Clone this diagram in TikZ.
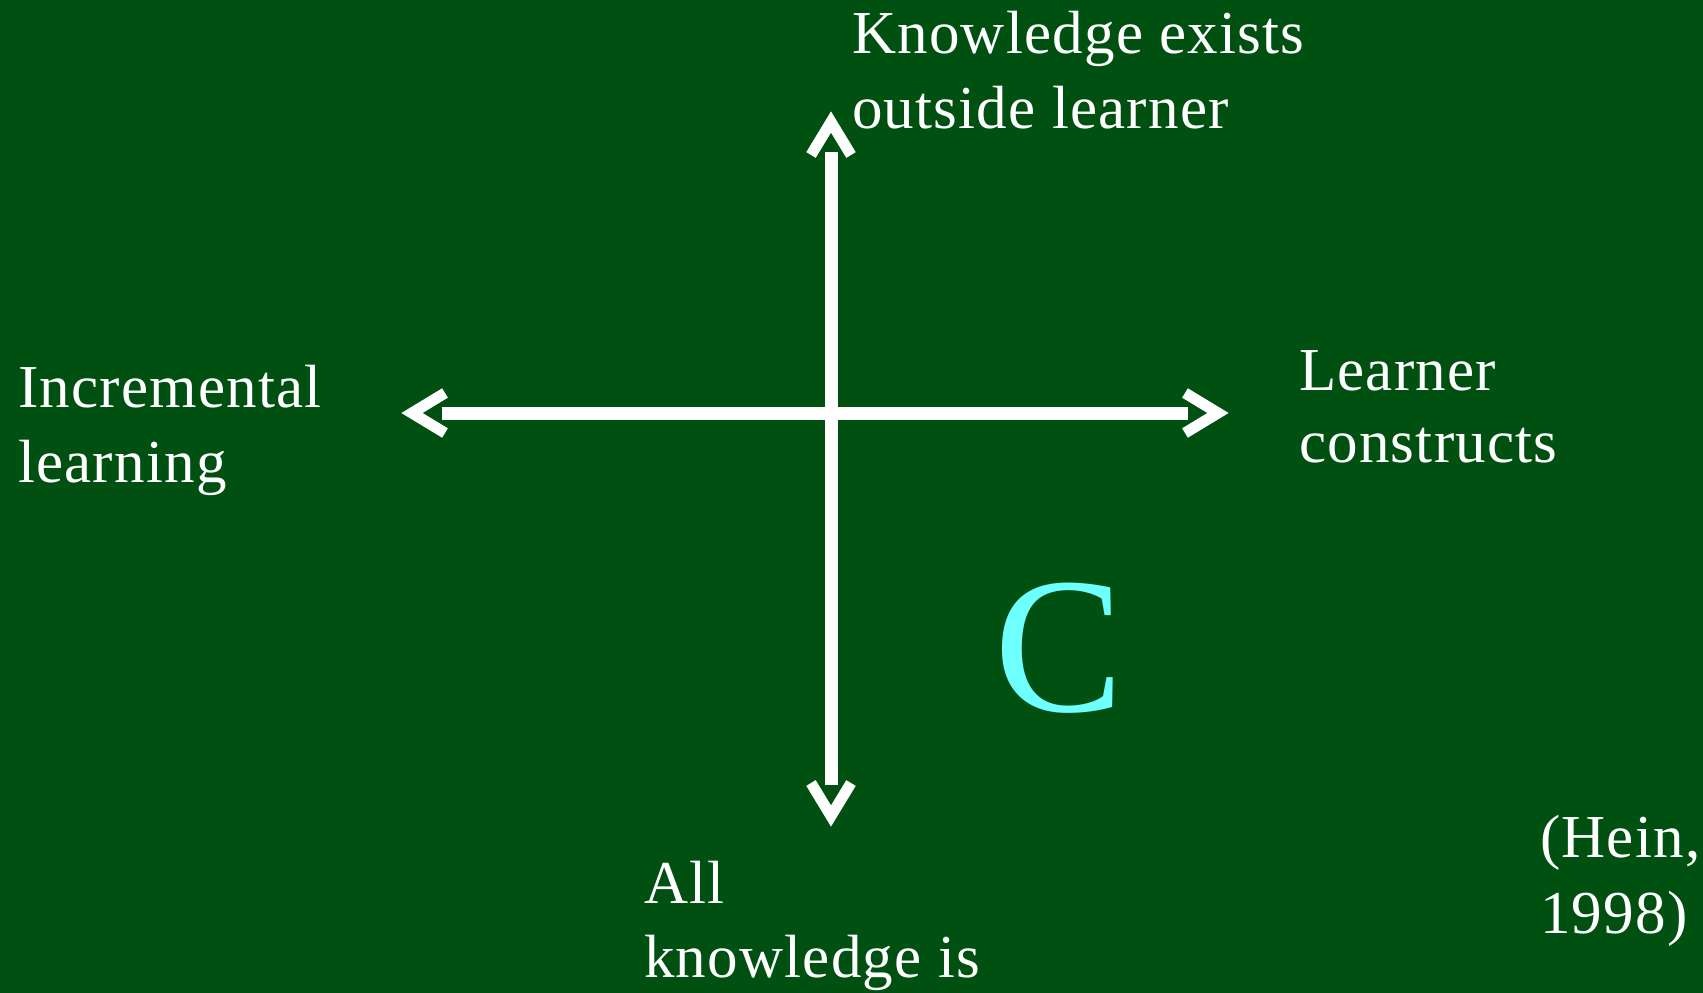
\documentclass[tikz,border=0pt]{standalone}
\usepackage{fontspec}
\setmainfont{Liberation Serif}
\definecolor{bggreen}{RGB}{0,80,18}
\definecolor{ccyan}{RGB}{110,255,255}
\newcommand{\twolines}[2]{\vtop{\hbox{#1}\hbox{#2}}}
\begin{document}
\begin{tikzpicture}[x=1pt,y=-1pt,
  lbl/.style={anchor=base west, inner sep=0pt, text=white, font=\fontsize{61}{75}\selectfont\addfontfeatures{LetterSpace=2}},
  shaft/.style={draw=white, line width=13pt, line cap=butt},
  barb/.style={draw=white, line width=11pt, line join=miter, line cap=butt}]
\fill[bggreen] (0,0) rectangle (1703,993);
\useasboundingbox (0,0) rectangle (1703,993);
% axis coordinates
\coordinate (o) at (831,413);
\coordinate (topend) at (831,152);
\coordinate (botend) at (831,785);
\coordinate (leftend) at (442,413);
\coordinate (rightend) at (1188,413);
% shafts
\draw[shaft] (topend) -- (botend);
\draw[shaft] (leftend) -- (rightend);
% open arrow heads
\draw[barb] (811,155) -- (831,122) coordinate (tv) -- (851,155);
\draw[barb] (811,783) -- (831,816) coordinate (bv) -- (851,783);
\draw[barb] (445,393) -- (412,413) coordinate (lv) -- (445,433);
\draw[barb] (1185,393) -- (1218,413) coordinate (rv) -- (1185,433);
% labels
\node[lbl] (ktop) at (852,53) {\twolines{Knowledge exists}{outside learner}};
\node[lbl] (kleft) at (18,407) {\twolines{Incremental}{learning}};
\node[lbl, font=\fontsize{61}{72}\selectfont\addfontfeatures{LetterSpace=2}] (kright) at (1299,390) {\twolines{Learner}{constructs}};
\node[lbl, font=\fontsize{61}{74}\selectfont\addfontfeatures{LetterSpace=2}] (kbot) at (644,903) {\twolines{All}{knowledge is}};
\node[lbl, font=\fontsize{61}{76}\selectfont\addfontfeatures{LetterSpace=2}] (hein) at (1540,857) {\twolines{(Hein,}{1998)}};
\node[anchor=base west, inner sep=0pt, text=ccyan, font=\fontsize{194}{200}\selectfont] (cc) at (994,711) {C};
\end{tikzpicture}
\end{document}
